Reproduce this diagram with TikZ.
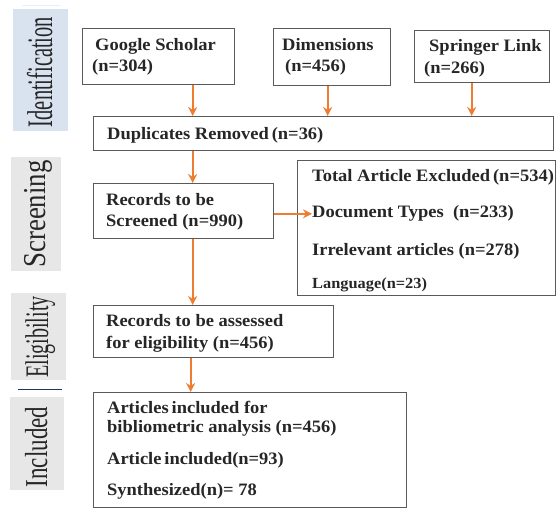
\documentclass[tikz,border=0pt]{standalone}
\usepackage{fontspec}
\setmainfont{Liberation Serif}
\newfontfamily\boxfont[FakeStretch=1.06]{Liberation Serif}
\usetikzlibrary{arrows.meta}
\definecolor{flow}{HTML}{ED7D31}
\definecolor{frame}{HTML}{5A5A5A}
\definecolor{ink}{HTML}{262626}
\definecolor{phaseblue}{HTML}{D9E2EF}
\definecolor{phasegray}{HTML}{E7E7E7}
\definecolor{navy}{HTML}{1F3864}
\tikzset{
  box/.style={draw=frame, line width=1.3bp, inner sep=0pt, anchor=north west},
  txt/.style={anchor=base west, inner sep=0pt, text=ink, font=\boxfont\bfseries\fontsize{17.5}{20}\selectfont},
  smalltxt/.style={txt, font=\boxfont\bfseries\fontsize{15.5}{18}\selectfont},
  phase/.style={rotate=90, anchor=base, inner sep=0pt, text=ink},
  flowarrow/.style={draw=flow, line width=2bp, -{Stealth[length=9bp,width=9bp]}}
}
\begin{document}
\begin{tikzpicture}[x=1bp, y=-1bp]
\useasboundingbox (0,0) rectangle (557,512);

% phase bands on the left
\fill[phaseblue] (13,9) rectangle (68,131);
\fill[phasegray] (11,157) rectangle (61,271);
\fill[phasegray] (11,293) rectangle (66,380);
\fill[phasegray] (10,397) rectangle (64,490);
\draw[draw=phaseblue!60, line width=0.8bp] (22,5) -- (60,5);
\draw[draw=navy, line width=1bp] (18,389) -- (62,389);

\node[phase] (pid) at (52,72) {\scalebox{0.57}[1]{\fontsize{36}{36}\selectfont Identification}};
\node[phase] (psc) at (45,214) {\scalebox{0.84}[1]{\fontsize{32}{32}\selectfont Screening}};
\node[phase] (pel) at (48,337) {\scalebox{0.61}[1]{\fontsize{33}{33}\selectfont Eligibility}};
\node[phase] (pin) at (47,447) {\scalebox{0.72}[1]{\fontsize{32}{32}\selectfont Included}};

% boxes
\node[box, minimum width=152bp, minimum height=56bp] (gs) at (82,28) {};
\node[box, minimum width=117bp, minimum height=57bp] (dim) at (273,28) {};
\node[box, minimum width=135bp, minimum height=52bp] (spr) at (414,30) {};
\node[box, minimum width=460bp, minimum height=34bp] (dup) at (93,116) {};
\node[box, minimum width=180bp, minimum height=55bp] (rec) at (93,183) {};
\node[box, minimum width=258bp, minimum height=135bp] (exc) at (297,160) {};
\node[box, minimum width=240bp, minimum height=52bp] (ass) at (93,305) {};
\node[box, minimum width=313bp, minimum height=115bp] (inc) at (93,392) {};

% box texts
\node[txt] (gs1) at (95,51) {Google Scholar};
\node[txt] (gs2) at (92,72) {(n=304)};
\node[txt] (dim1) at (282,51) {Dimensions};
\node[txt] (dim2) at (285,72) {(n=456)};
\node[txt] (spr1) at (429,52) {Springer Link};
\node[txt] (spr2) at (424,74) {(n=266)};
\node[txt] (dup1) at (107,140) {Duplicates Removed\,(n=36)};
\node[txt] (rec1) at (106,206) {Records to be};
\node[txt] (rec2) at (106,226) {Screened (n=990)};
\node[txt] (ex1) at (312,182) {Total Article Excluded\,(n=534)};
\node[txt] (doc) at (312,218) {Document Types \ (n=233)};
\node[txt] (ex3) at (312,255) {Irrelevant articles (n=278)};
\node[smalltxt] (ex4) at (312,288) {Language(n=23)};
\node[txt] (as1) at (106,326) {Records to be assessed};
\node[txt] (as2) at (106,348) {for eligibility (n=456)};
\node[txt] (in1) at (107,413) {Articles\,included for};
\node[txt] (in2) at (107,432) {bibliometric analysis (n=456)};
\node[txt] (in3) at (107,464) {Article\,included(n=93)};
\node[txt] (in4) at (107,495) {Synthesized(n)= 78};

% connectors
\draw[flowarrow] ([xshift=34bp]gs.south) -- ([xshift=34bp]gs.south |- dup.north);
\draw[flowarrow] ([xshift=-4.5bp]dim.south) -- ([xshift=-4.5bp]dim.south |- dup.north);
\draw[flowarrow] ([xshift=-10.5bp]spr.south) -- ([xshift=-10.5bp]spr.south |- dup.north);
\draw[flowarrow] ([xshift=9bp]rec.north |- dup.south) -- ([xshift=9bp]rec.north);
\draw[flowarrow] (rec.east |- doc.west) -- (doc.west);
\draw[flowarrow] ([xshift=9bp]rec.south) -- ([xshift=9bp]rec.south |- ass.north);
\draw[flowarrow] ([xshift=7bp]rec.south |- ass.south) -- ([xshift=7bp]rec.south |- inc.north);
\end{tikzpicture}
\end{document}
